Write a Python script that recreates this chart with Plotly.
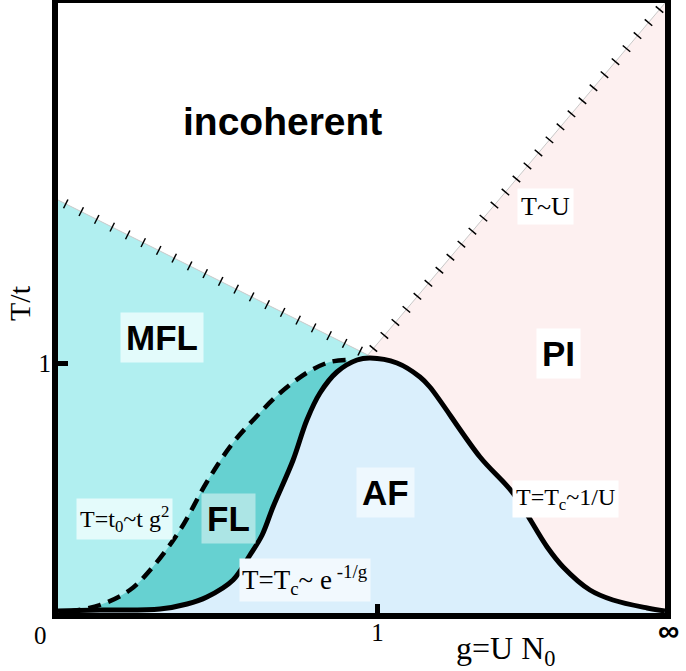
import numpy as np
import plotly.graph_objects as go

# --- phase boundaries (x: g = U N0, y: T/t) ---
# AF dome, T = Tc(g), from g = 0 to g = infinity (drawn at g_max)
tc_g = [0, 0.131, 0.319, 0.404, 0.466, 0.548, 0.601, 0.639, 0.673, 0.736, 0.779, 0.820,
        0.873, 0.936, 0.977, 1.061, 1.133, 1.164, 1.321, 1.424, 1.531, 1.581, 1.665,
        1.737, 1.844, 1.90]
tc_T = [0.008, 0.012, 0.016, 0.036, 0.064, 0.132, 0.232, 0.312, 0.424, 0.612, 0.772, 0.880,
        0.964, 1.012, 1.020, 1.000, 0.944, 0.904, 0.624, 0.480, 0.264, 0.184, 0.092,
        0.052, 0.020, 0.008]

# coherence scale T = t0 ~ t g^2 (dashed)
t0_g = [0.03, 0.131, 0.225, 0.294, 0.382, 0.466, 0.545, 0.617, 0.695, 0.783, 0.851, 0.905]
t0_T = [0.004, 0.032, 0.092, 0.180, 0.332, 0.524, 0.676, 0.780, 0.880, 0.964, 1.004, 1.012]

# crossover lines (hatched)
mfl_g = [0, 0.970]
mfl_T = [1.652, 1.032]
tu_g = [0.970, 1.90]
tu_T = [1.032, 2.44]

g_max = 1.9
T_max = 2.44

x_ticks = [1]
x_ticktext = ["1"]
y_ticks = [1]
y_ticktext = ["1"]

# --- colours ---
C_MFL = "#b1eff0"
C_FL = "#66d1d1"
C_AF = "#daeffc"
C_PI = "#fdf0f0"

W, H = 686, 671
M = dict(l=58, r=21, t=3, b=58)
pw = W - M["l"] - M["r"]
ph = H - M["t"] - M["b"]

fig = go.Figure()

# MFL region: under the left crossover line
fig.add_trace(go.Scatter(
    x=[0] + mfl_g + [mfl_g[-1]], y=[0] + mfl_T + [0],
    fill="toself", fillcolor=C_MFL, mode="none", hoverinfo="skip"))

# PI region: under T~U
fig.add_trace(go.Scatter(
    x=tu_g + [tu_g[-1], tu_g[0]], y=tu_T + [0, 0],
    fill="toself", fillcolor=C_PI, mode="none", hoverinfo="skip"))

# FL region: under the dashed curve
fig.add_trace(go.Scatter(
    x=t0_g, y=t0_T, fill="tozeroy", fillcolor=C_FL, mode="none",
    line=dict(shape="spline"), hoverinfo="skip"))

# AF region: under Tc
fig.add_trace(go.Scatter(
    x=tc_g, y=tc_T, fill="tozeroy", fillcolor=C_AF, mode="none",
    line=dict(shape="spline"), hoverinfo="skip"))

# hatched crossover lines
for gx, ty, n in [(mfl_g, mfl_T, 20), (tu_g, tu_T, 27)]:
    fig.add_trace(go.Scatter(x=gx, y=ty, mode="lines",
                             line=dict(color="#c8c8c8", width=1), hoverinfo="skip"))
    dx = (gx[1] - gx[0]) * pw / g_max
    dy = (ty[1] - ty[0]) * ph / T_max
    ang = np.degrees(np.arctan2(dy, dx))
    f = (np.arange(n) + 0.5) / n
    fig.add_trace(go.Scatter(
        x=gx[0] + f * (gx[1] - gx[0]), y=ty[0] + f * (ty[1] - ty[0]), mode="markers",
        marker=dict(symbol="line-ns", size=7, angle=-ang,
                    line=dict(color="black", width=1.5)),
        hoverinfo="skip"))

# boundary lines
fig.add_trace(go.Scatter(x=t0_g, y=t0_T, mode="lines",
                         line=dict(color="black", width=4.5, dash="13px,8px", shape="spline"),
                         hoverinfo="skip"))
fig.add_trace(go.Scatter(x=tc_g, y=tc_T, mode="lines",
                         line=dict(color="black", width=5, shape="spline"),
                         hoverinfo="skip"))

SANS = "Liberation Sans"
SERIF = "Liberation Serif"


def label(x, y, text, size, bold=False, bg=None, pad=5):
    fig.add_annotation(
        x=x, y=y, text=text, showarrow=False,
        font=dict(family=SANS if bold else SERIF, size=size, color="black",
                  weight="bold" if bold else "normal"),
        bgcolor=bg, borderpad=pad)


label(0.704, 1.968, "incoherent", 39, bold=True)
label(0.325, 1.102, "MFL", 35, bold=True, bg="#e3fbfb")
label(1.568, 1.039, "PI", 35, bold=True, bg="white")
label(1.026, 0.482, "AF", 35, bold=True, bg="#eef8fe")
label(0.533, 0.379, "FL", 35, bold=True, bg="#ace5e5")
label(1.525, 1.628, "T~U", 26, bg="white", pad=3)
label(0.208, 0.375, "T=t<sub>0</sub>~t g<sup>2</sup>", 24, bg="#e4fbfb", pad=3)
label(1.590, 0.458, "T=T<sub>c</sub>~1/U", 24, bg="white", pad=3)
label(0.772, 0.134, "T=T<sub>c</sub>~ e<sup> -1/g</sup>", 27, bg="#f2f9fe", pad=2)


def page_label(px, py, text, font, angle=0):
    # place by pixel position on the page, converted to paper coordinates
    fig.add_annotation(x=(px - M["l"]) / pw, y=(H - py - M["b"]) / ph,
                       xref="paper", yref="paper", xanchor="center", yanchor="middle",
                       text=text, textangle=angle, showarrow=False, font=font)


page_label(40, 635, "0", dict(family=SERIF, size=25, color="black"))
page_label(668, 630, "∞", dict(family=SANS, size=30, color="black", weight="bold"))
page_label(505, 650, "g=U N<sub>0</sub>", dict(family=SERIF, size=32, color="black"))
page_label(19, 303, "T/t", dict(family=SERIF, size=30, color="black"), angle=-90)

# heavy frame just outside the plotting area
fig.add_shape(type="rect", xref="paper", yref="paper",
              x0=-3 / pw, x1=1 + 3 / pw, y0=-3 / ph, y1=1 + 3 / ph,
              line=dict(color="black", width=6), layer="above")

axis_common = dict(showgrid=False, zeroline=False, showline=False,
                   ticks="inside", tickwidth=5, tickcolor="black", automargin=False,
                   tickfont=dict(family=SERIF, size=25, color="black"))

fig.update_layout(
    width=W, height=H, margin=M, showlegend=False,
    paper_bgcolor="white", plot_bgcolor="white",
    xaxis=dict(range=[0, g_max], tickvals=x_ticks, ticktext=x_ticktext, ticklen=9,
               ticklabelstandoff=2, **axis_common),
    yaxis=dict(range=[0, T_max], tickvals=y_ticks, ticktext=y_ticktext, ticklen=10,
               ticklabelstandoff=6, **axis_common),
)

# drop the browser's default page margin so the figure fills the window
fig.write_html("out.html", config={"displayModeBar": False},
               post_script="document.body.style.margin = '0';")
